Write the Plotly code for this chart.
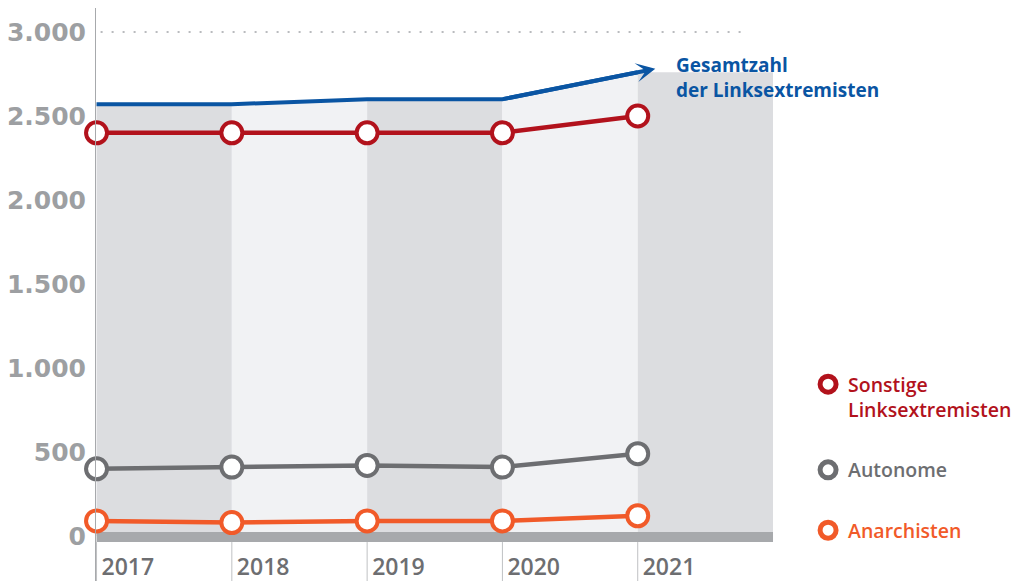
import plotly.graph_objects as go

years = [2017, 2018, 2019, 2020, 2021]
year_labels = ["2017", "2018", "2019", "2020", "2021"]
gesamt = [2570, 2570, 2600, 2600, 2760]
sonstige = [2400, 2400, 2400, 2400, 2500]
autonome = [400, 410, 420, 410, 490]
anarchisten = [90, 80, 90, 90, 120]
y_ticks = [0, 500, 1000, 1500, 2000, 2500, 3000]
y_tick_labels = ["0", "500", "1.000", "1.500", "2.000", "2.500", "3.000"]

BLUE = "#0a55a3"
RED = "#b2121c"
GRAY = "#6d6e71"
ORANGE = "#f15a29"
COL_DARK = "#dcdde0"
COL_LIGHT = "#f1f2f4"
FLOOR = "#a7a9ac"
FONT = "Open Sans"

fig = go.Figure()

# alternating year columns under the total line
for i, yr in enumerate(years):
    x0, x1 = yr, yr + 1
    y0 = gesamt[i]
    y1 = gesamt[i + 1] if i + 1 < len(years) else gesamt[i]
    fig.add_trace(go.Scatter(
        x=[x0, x0, x1, x1, x0], y=[0, y0, y1, 0, 0],
        mode="lines", fill="toself", fillcolor=COL_DARK if i % 2 == 0 else COL_LIGHT,
        line=dict(width=0), hoverinfo="skip", showlegend=False))

# floor band
fig.add_trace(go.Scatter(
    x=[years[0], years[-1] + 1], y=[-6, -6], mode="lines",
    line=dict(color=FLOOR, width=10), hoverinfo="skip", showlegend=False))

# total line
fig.add_trace(go.Scatter(
    x=years, y=gesamt, mode="lines", line=dict(color=BLUE, width=4),
    showlegend=False, cliponaxis=False))

marker_style = dict(symbol="circle", size=21, color="white")
for vals, col in [(sonstige, RED), (autonome, GRAY), (anarchisten, ORANGE)]:
    fig.add_trace(go.Scatter(
        x=years, y=vals, mode="lines+markers",
        line=dict(color=col, width=4.5),
        marker=dict(**marker_style, line=dict(color=col, width=4)),
        showlegend=False, cliponaxis=False))

# legend-only entries
legend_items = [
    ("Sonstige<br>Linksextremisten", RED),
    ("Autonome", GRAY),
    ("Anarchisten", ORANGE),
]
for i, (name, col) in enumerate(legend_items):
    fig.add_trace(go.Scatter(
        x=[None], y=[None], mode="markers",
        marker=dict(symbol="circle", size=16, color="white", line=dict(color=col, width=5)),
        name=f"<span style='color:{col}'>{name}</span>", legendgroup=str(i)))

# arrow continuing the total line
t = 1.13
tip_x = years[-2] + t * (years[-1] - years[-2])
tip_y = gesamt[-2] + t * (gesamt[-1] - gesamt[-2])
fig.add_annotation(
    x=tip_x, y=tip_y, ax=years[-2], ay=gesamt[-2], axref="x", ayref="y",
    xref="x", yref="y", text="", showarrow=True, arrowhead=3, arrowsize=0.8,
    arrowwidth=4, arrowcolor=BLUE, standoff=0)
fig.add_annotation(
    x=2021.27, y=2732, xref="x", yref="y", xanchor="left", yanchor="middle", align="left",
    text="Gesamtzahl<br>der Linksextremisten", showarrow=False,
    font=dict(family=FONT, size=19, color=BLUE, weight=700))

# dotted 3000 line
fig.add_shape(type="line", xref="x", yref="y", x0=2017.03, x1=2021.79, y0=3000, y1=3000,
              line=dict(color="#b9bbbe", width=2, dash="2px,9px"), layer="below")

# separator lines below floor
for yr in years:
    fig.add_shape(type="line", xref="x", yref="y", x0=yr, x1=yr, y0=-36, y1=-268,
                  line=dict(color="#bfc1c3", width=1), layer="below")

fig.update_layout(
    width=1016, height=581,
    margin=dict(l=96, r=0, t=8, b=0, autoexpand=False),
    paper_bgcolor="white", plot_bgcolor="white",
    showlegend=True,
    legend=dict(x=0.774, y=0.377, xanchor="left", yanchor="top", valign="top",
                tracegroupgap=32, bgcolor="rgba(0,0,0,0)",
                font=dict(family=FONT, size=19.5, color=GRAY, weight=600)),
    xaxis=dict(range=[2016.996, 2023.796], showgrid=False, zeroline=False, showline=False,
               automargin=False,
               tickvals=years, ticktext=year_labels, ticks="",
               ticklabelposition="inside right", ticklabelshift=5, ticklabelstandoff=-5,
               tickfont=dict(family=FONT, size=23, color=GRAY, weight=600)),
    yaxis=dict(range=[-267.86, 3142.86], showgrid=False, zeroline=False, automargin=False,
               showline=True, linecolor=FLOOR, linewidth=1,
               tickvals=y_ticks, ticktext=y_tick_labels, ticks="",
               ticklabelstandoff=4,
               tickfont=dict(family="DejaVu Sans", size=25, color="#9d9fa2", weight=700)),
)

fig.write_html("out.html", post_script="document.body.style.margin='0';",
               config={"displayModeBar": False})
